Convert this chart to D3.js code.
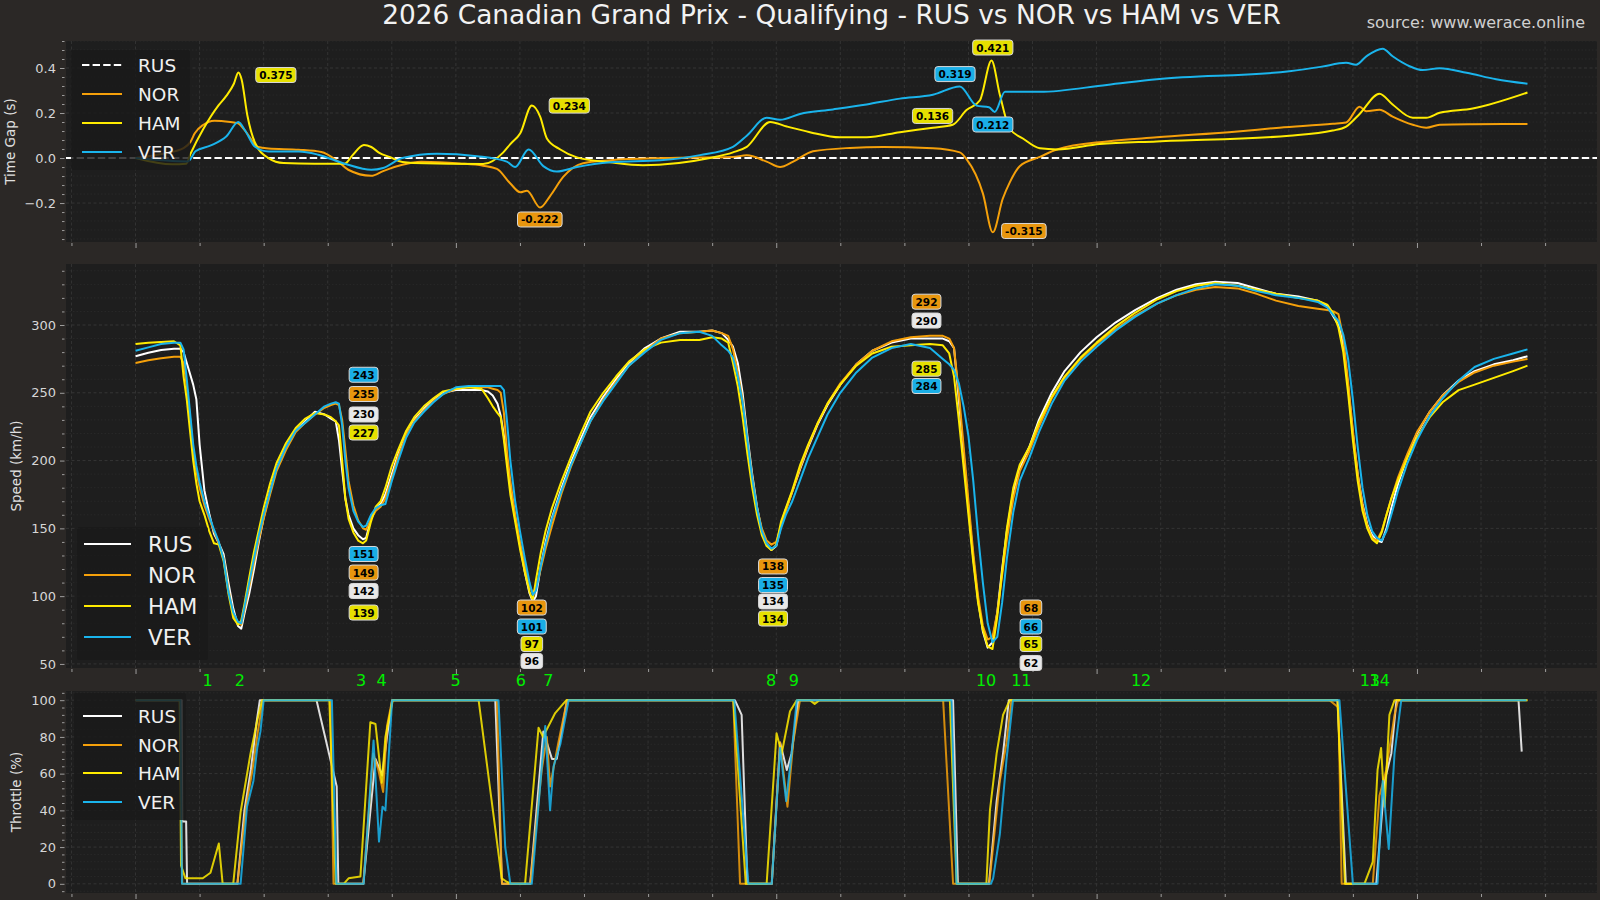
<!DOCTYPE html>
<html><head><meta charset="utf-8">
<script src="https://cdn.jsdelivr.net/npm/d3@7"></script>
<style>
html,body{margin:0;padding:0;background:#2b2826;}
svg{display:block;}
text{font-family:"DejaVu Sans",sans-serif;}
</style></head><body>
<svg id="chart" width="1600" height="900"></svg>
<script>
// ---------------- DATA ----------------
const drivers = ["RUS","NOR","HAM","VER"];
const titleText = "2026 Canadian Grand Prix - Qualifying - RUS vs NOR vs HAM vs VER";
const sourceText = "source: www.werace.online";

// distance grid (m) shared by the speed traces
const speedDistance = [0,40,80,120,140,
 150,160,170,180,190,200,215,230,245,260,275,290,305,320,330,340,355,370,385,400,420,440,470,500,530,560,590,610,625,
 635,645,655,665,680,695,710,720,735,750,765,780,800,820,845,870,900,930,960,1000,1040,1080,1100,1115,1130,
 1140,1150,1160,1170,1185,1200,1215,1230,1240,1250,1265,1280,1300,1330,1360,1390,1420,1460,1500,1540,1590,1640,1700,1760,1800,1830,1850,
 1865,1880,1895,1910,1925,1940,1955,1970,1985,2000,2015,2030,2050,2075,2100,2130,2160,2200,2250,2300,2360,2420,2480,2520,2540,
 2555,2570,2585,2600,2615,2630,2645,2660,2675,2690,2705,2720,2740,2760,2790,2820,2860,2900,2950,3000,3060,3120,3190,3250,3310,3370,3440,3500,3560,3630,3690,3720,3740,
 3755,3770,3785,3800,3815,3830,3845,3860,3875,3890,3905,3920,3940,3970,4000,4040,4080,4130,4180,4240,4300,4345];

const speedRUS = [277,279.5,281.5,282.5,282.5,
 280,272,264,256,245,212,178,161,146,139,131,110,91,78,76,87,102,120,140,158,177,194,210,222,229,236,234,231,229,
 215,193,172,160,150,145,142,143,157,165,168,175,190,205,219,230,238,245,250,252,252,252,251,248,242,
 233,218,200,180,158,138,118,102,96,100,122,140,158,180,199,216,232,247,260,272,283,290,295,295,296,294,289,
 284,272,250,218,190,166,148,138,134,137,152,164,177,194,210,227,241,256,271,281,287,290,290,290,288,
 283,245,205,165,128,97,74,62,66,88,120,148,177,194,210,230,250,266,280,291,302,311,320,326,330,332,331,327,323,321,318,314,306,
 300,285,255,220,190,168,153,145,141,140,150,165,182,203,220,236,248,259,266,271,274,277];

const speedNOR = [272,274,275.5,276.5,276.5,
 272,255,232,208,192,180,167,157,148,139,128,105,87,80,79,90,107,125,142,157,175,192,208,221,228,234,239,241,242,
 241,230,208,185,167,156,150,149,157,163,166,172,187,203,219,229,237,244,249,253,254,254,254,253,252,
 250,235,205,185,160,140,123,108,102,106,120,135,152,176,196,213,229,245,258,270,281,290,294,295,296,294,292,
 282,265,245,215,188,165,150,141,138,140,152,163,177,195,211,228,242,257,271,281,288,291,292,292,290,
 283,250,210,170,132,100,78,68,70,88,115,142,172,192,207,225,246,261,275,286,297,307,316,322,326,328,327,323,318,314,312,311,310,
 308,290,258,222,190,167,152,143,141,148,160,172,187,205,221,236,248,258,265,270,273,275];

const speedHAM = [286,287,287.5,288,285,
 262,245,222,200,183,170,160,148,139,138,126,102,84,79,82,94,114,133,149,165,183,198,213,224,231,235,234,232,229,
 226,200,172,157,147,141,139,141,155,166,170,180,196,208,222,232,240,246,251,253,254,253,246,240,235,
 232,215,195,175,155,135,118,103,97,112,132,148,165,185,203,220,236,250,262,273,282,287,289,289,291,290,287,
 272,255,232,205,180,160,145,137,134,138,155,165,178,197,212,228,242,256,270,279,284,285,286,285,279,
 262,230,195,160,125,95,75,63,61,85,118,150,180,197,210,228,247,262,276,287,299,309,319,325,329,331,329,326,323,320,318,315,308,
 298,280,250,215,185,163,150,142,139,147,160,172,185,202,217,232,243,252,256,261,266,270];

const speedVER = [281,283.5,286,287,287,
 282,260,236,212,196,184,170,159,149,140,127,103,88,81,80,92,110,128,145,160,177,194,210,222,228,234,240,242,243,
 242,226,200,180,163,155,151,152,160,165,167,168,185,200,217,228,236,243,249,254,255,255,255,255,255,
 255,252,228,200,170,148,128,110,101,104,122,138,157,178,197,213,229,244,257,270,280,289,294,295,292,285,281,
 276,262,243,215,187,165,148,139,135,137,150,160,170,186,202,218,234,250,265,276,283,286,283,275,271,
 267,257,240,218,185,145,110,80,66,70,95,128,162,185,202,221,242,259,273,284,296,306,316,322,327,330,329,325,322,320,317,313,307,
 303,293,275,245,210,180,160,148,143,141,148,160,177,198,215,233,246,259,269,275,279,282];

// throttle traces [distance m, throttle %]
const throttleRUS = [[0,100],[144,100],[146,34],[158,34],[161,0],[318,0],[340,40],[360,62],[378,88],[388,100],[565,100],[628,53],[633,0],[711,0],[749,68],[770,59],[785,80],[801,100],[1123,100],[1144,0],[1232,0],[1273,83],[1300,68],[1315,68],[1347,100],[1871,100],[1892,92],[1910,0],[1986,0],[2012,77],[2033,62],[2048,71],[2069,100],[2552,100],[2567,0],[2664,0],[2688,45],[2708,71],[2726,100],[3752,100],[3778,0],[3873,0],[3899,56],[3920,71],[3936,100],[4317,100],[4327,72]];
const throttleNOR = [[0,100],[138,100],[146,0],[318,0],[345,42],[365,62],[382,83],[398,100],[608,100],[618,0],[711,0],[742,71],[758,62],[773,50],[785,86],[801,100],[1128,100],[1144,0],[1232,0],[1268,62],[1284,80],[1294,53],[1320,77],[1347,100],[1866,100],[1887,0],[1986,0],[2012,77],[2035,42],[2053,77],[2074,100],[2521,100],[2552,0],[2665,0],[2672,12],[2698,56],[2719,77],[2734,100],[3727,100],[3755,96],[3765,0],[3862,0],[3883,48],[3904,62],[3930,92],[3941,100],[4345,100]];
const throttleHAM = [[0,100],[138,100],[142,10],[156,3],[210,3],[234,6],[260,22],[272,0],[305,0],[328,39],[359,71],[380,89],[395,100],[605,100],[625,0],[650,0],[665,3],[702,4],[733,88],[749,87],[769,55],[780,80],[803,100],[1071,100],[1143,3],[1160,1],[1175,0],[1216,0],[1258,85],[1272,80],[1310,93],[1345,100],[1866,100],[1905,0],[1970,0],[2001,82],[2017,71],[2043,94],[2064,100],[2105,100],[2120,98],[2135,100],[2542,100],[2563,0],[2656,0],[2667,40],[2688,71],[2708,92],[2729,100],[3752,100],[3775,0],[3836,0],[3862,12],[3877,62],[3888,74],[3899,42],[3914,92],[3930,100],[4345,100]];
const throttleVER = [[0,100],[140,100],[145,0],[328,0],[348,42],[368,56],[380,74],[390,83],[400,100],[613,100],[627,0],[712,0],[743,78],[760,23],[771,42],[780,40],[801,100],[1133,100],[1154,20],[1170,0],[1237,0],[1279,86],[1294,40],[1305,64],[1326,76],[1352,100],[1869,100],[1913,0],[1986,0],[2012,74],[2031,45],[2048,71],[2064,100],[2547,100],[2563,0],[2670,0],[2677,3],[2698,27],[2719,68],[2739,100],[3758,100],[3800,0],[3877,0],[3893,56],[3912,19],[3930,71],[3951,100],[4342,100]];

// time gap to RUS [distance m, seconds]
const gapNOR = [[0,0],[90,0.02],[150,0.044],[172,0.073],[185,0.11],[212,0.148],[246,0.166],[296,0.16],[318,0.155],[343,0.12],[365,0.075],[380,0.05],[415,0.042],[510,0.037],[580,0.027],[630,-0.013],[664,-0.052],[736,-0.079],[773,-0.058],[833,-0.03],[892,-0.017],[1011,-0.024],[1085,-0.034],[1128,-0.048],[1170,-0.113],[1201,-0.152],[1222,-0.145],[1263,-0.22],[1294,-0.169],[1335,-0.084],[1397,-0.023],[1482,-0.01],[1650,0],[1865,0.005],[1908,0.012],[1970,-0.016],[2012,-0.04],[2053,-0.016],[2115,0.03],[2230,0.045],[2333,0.049],[2489,0.043],[2573,0.025],[2594,-0.005],[2645,-0.157],[2676,-0.33],[2707,-0.181],[2729,-0.108],[2760,-0.036],[2823,0.005],[2876,0.038],[3032,0.074],[3188,0.092],[3440,0.118],[3571,0.135],[3737,0.152],[3779,0.158],[3821,0.228],[3842,0.208],[3883,0.215],[3924,0.184],[3987,0.148],[4029,0.135],[4071,0.148],[4174,0.15],[4345,0.151]];
const gapHAM = [[0,0],[115,-0.028],[158,-0.025],[172,0.02],[212,0.13],[259,0.234],[284,0.277],[307,0.33],[321,0.38],[331,0.35],[349,0.19],[373,0.068],[415,0.0],[462,-0.022],[558,-0.025],[653,-0.025],[677,0.012],[713,0.058],[736,0.049],[761,0.023],[795,0.004],[833,-0.018],[867,-0.022],[1085,-0.027],[1148,0.025],[1170,0.062],[1201,0.11],[1237,0.233],[1263,0.184],[1284,0.087],[1326,0.038],[1378,0.003],[1482,-0.019],[1584,-0.032],[1793,0],[1865,0.025],[1908,0.05],[1981,0.16],[2033,0.14],[2105,0.115],[2199,0.092],[2282,0.092],[2386,0.115],[2489,0.135],[2551,0.148],[2594,0.213],[2636,0.257],[2672,0.433],[2698,0.281],[2729,0.13],[2770,0.087],[2823,0.043],[2876,0.038],[3010,0.062],[3188,0.074],[3602,0.099],[3737,0.122],[3779,0.14],[3821,0.196],[3883,0.286],[3924,0.238],[3987,0.179],[4029,0.179],[4071,0.201],[4174,0.22],[4345,0.291]];
const gapVER = [[0,0],[164,-0.015],[172,-0.004],[187,0.03],[235,0.056],[284,0.097],[321,0.16],[343,0.12],[373,0.05],[415,0.029],[510,0.029],[570,0.015],[653,-0.025],[736,-0.052],[773,-0.044],[833,0],[941,0.019],[1066,0.008],[1159,-0.016],[1185,-0.04],[1227,0.038],[1273,-0.036],[1315,-0.06],[1378,-0.04],[1482,-0.019],[1638,-0.01],[1762,0.013],[1865,0.05],[1908,0.099],[1970,0.179],[2012,0.17],[2074,0.196],[2177,0.216],[2282,0.238],[2386,0.264],[2489,0.281],[2573,0.318],[2625,0.233],[2664,0.226],[2682,0.205],[2714,0.294],[2823,0.294],[3032,0.325],[3188,0.35],[3602,0.386],[3699,0.405],[3779,0.423],[3810,0.415],[3842,0.452],[3893,0.486],[3924,0.452],[3977,0.408],[4017,0.391],[4071,0.399],[4155,0.379],[4247,0.35],[4345,0.33]];

// turn numbers and their distances (m)
const turnNames = ["1","2","3","4","5","6","7","8","9","10","11","12","13","14"];
const turnDistance = [225,326,704,768,999,1203,1289,1984,2055,2655,2765,3139,3853,3884];

// annotations: [driver, text, distance m, value level]
const gapNotes = [["HAM","0.375",438,0.369],["HAM","0.234",1354,0.233],["NOR","-0.222",1262,-0.273],
  ["HAM","0.421",2676,0.491],["VER","0.319",2558,0.373],["HAM","0.136",2488,0.187],["VER","0.212",2676,0.149],["NOR","-0.315",2773,-0.324]];
const speedNotes = [["VER","243",712,263.3],["NOR","235",712,249.1],["RUS","230",712,234.0],["HAM","227",712,220.7],
  ["VER","151",712,131.1],["NOR","149",712,117.4],["RUS","142",712,103.8],["HAM","139",712,87.9],
  ["NOR","102",1237,91.6],["VER","101",1237,77.6],["HAM","97",1237,64.7],["RUS","96",1237,52.2],
  ["NOR","138",1990,121.9],["VER","135",1990,108.2],["RUS","134",1990,96.1],["HAM","134",1990,83.5],
  ["NOR","292",2469,317.2],["RUS","290",2469,303.3],["HAM","285",2469,267.8],["VER","284",2469,255.0],
  ["NOR","68",2795,91.6],["VER","66",2795,77.6],["HAM","65",2795,64.7],["RUS","62",2795,50.7]];

const gapTicks = [-0.2,0,0.2,0.4];
const speedTicks = [50,100,150,200,250,300];
const throttleTicks = [0,20,40,60,80,100];

// ---------------- STYLE ----------------
const colors = {RUS:"#ffffff", NOR:"#f5a00a", HAM:"#ffeb00", VER:"#1ab4ec"};
const noteFill = {RUS:"#e8e8e8", NOR:"#e8960e", HAM:"#e6e000", VER:"#1aaee6"};
const figBg = "#2b2826", axBg = "#1e1e1e";

const svg = d3.select("#chart");
svg.append("rect").attr("width",1600).attr("height",900).attr("fill",figBg);

const X0 = 66, X1 = 1597;
const x = d3.scaleLinear().domain([-217, 4562]).range([X0, X1]);

const panels = [
  {id:"gap", top:41, bottom:242, domain:[-0.373,0.52], major:gapTicks, minorStep:0.04, fmt:d3.format(".1f"), label:"Time Gap (s)", labelX:10},
  {id:"spd", top:264, bottom:668, domain:[47,345], major:speedTicks, minorStep:10, fmt:d3.format("d"), label:"Speed (km/h)", labelX:15.5},
  {id:"thr", top:691, bottom:893, domain:[-5,105], major:throttleTicks, minorStep:4, fmt:d3.format("d"), label:"Throttle (%)", labelX:16}
];

const xMinor = d3.range(-200, 4562, 200);
const xMajor = d3.range(0, 4562, 1000);

panels.forEach(p => {
  p.y = d3.scaleLinear().domain(p.domain).range([p.bottom, p.top]);
  const g = svg.append("g");
  p.g = g;
  g.append("rect").attr("x",X0).attr("y",p.top).attr("width",X1-X0).attr("height",p.bottom-p.top).attr("fill",axBg);
  svg.append("clipPath").attr("id","clip-"+p.id).append("rect")
    .attr("x",X0).attr("y",p.top).attr("width",X1-X0).attr("height",p.bottom-p.top);
  const lo = Math.ceil(p.domain[0]/p.minorStep), hi = Math.floor(p.domain[1]/p.minorStep);
  const yMinor = d3.range(lo, hi+1).map(k => +(k*p.minorStep).toFixed(6))
      .filter(v => !p.major.some(m => Math.abs(m-v) < 1e-9));
  const grid = g.append("g").attr("clip-path","url(#clip-"+p.id+")");
  grid.selectAll(".hmin").data(yMinor).join("line")
    .attr("x1",X0).attr("x2",X1).attr("y1",d=>p.y(d)).attr("y2",d=>p.y(d))
    .attr("stroke","#2f2f2f").attr("stroke-width",0.6).attr("stroke-dasharray","1.5,2");
  grid.selectAll(".hmaj").data(p.major).join("line")
    .attr("x1",X0).attr("x2",X1).attr("y1",d=>p.y(d)).attr("y2",d=>p.y(d))
    .attr("stroke","#3a3a3a").attr("stroke-width",0.8).attr("stroke-dasharray","3,2.5");
  grid.selectAll(".vg").data(xMinor).join("line")
    .attr("x1",d=>x(d)).attr("x2",d=>x(d)).attr("y1",p.top).attr("y2",p.bottom)
    .attr("stroke","#383838").attr("stroke-width",0.8).attr("stroke-dasharray","3,2.5");
  const yAxMinor = d3.axisLeft(p.y).tickValues(yMinor).tickSize(2.5).tickFormat("");
  const yAxMajor = d3.axisLeft(p.y).tickValues(p.major).tickSize(4.5).tickPadding(4).tickFormat(p.fmt);
  [yAxMinor, yAxMajor].forEach(ax => {
    const a = g.append("g").attr("transform",`translate(${X0-1.5},0)`).call(ax);
    a.select(".domain").remove();
    a.selectAll("line").attr("stroke","#bbbbbb").attr("stroke-width",0.8);
    a.selectAll("text").attr("fill","#d6d6d6").attr("font-size","13px").attr("font-family","DejaVu Sans");
  });
  const xAxMinor = d3.axisBottom(x).tickValues(xMinor.filter(v=>!xMajor.includes(v))).tickSize(3).tickFormat("");
  const xAxMajor = d3.axisBottom(x).tickValues(xMajor).tickSize(5).tickFormat("");
  [xAxMinor, xAxMajor].forEach(ax => {
    const a = g.append("g").attr("transform",`translate(0,${p.bottom+1})`).call(ax);
    a.select(".domain").remove();
    a.selectAll("line").attr("stroke","#bbbbbb").attr("stroke-width",0.8);
  });
  g.append("text").attr("transform",`translate(${p.labelX},${(p.top+p.bottom)/2}) rotate(-90)`)
    .attr("text-anchor","middle").attr("dominant-baseline","central")
    .attr("fill","#e0e0e0").attr("font-size","13.5px").text(p.label);
});

const [pGap, pSpd, pThr] = panels;

// ---------- gap panel ----------
const gapLayer = pGap.g.append("g").attr("clip-path","url(#clip-gap)");
gapLayer.append("line").attr("x1",X0).attr("x2",X1).attr("y1",pGap.y(0)).attr("y2",pGap.y(0))
  .attr("stroke",colors.RUS).attr("stroke-width",2).attr("stroke-dasharray","7.4,3.2");
const gapSeries = {NOR:gapNOR, HAM:gapHAM, VER:gapVER};
const gapLine = d3.line().x(d=>x(d[0])).y(d=>pGap.y(d[1])).curve(d3.curveMonotoneX);
["NOR","HAM","VER"].forEach(dr => {
  gapLayer.append("path").datum(gapSeries[dr]).attr("d",gapLine)
    .attr("fill","none").attr("stroke",colors[dr]).attr("stroke-width",2).attr("stroke-linejoin","round");
});

// ---------- speed panel ----------
const spdLayer = pSpd.g.append("g").attr("clip-path","url(#clip-spd)");
const speedSeries = {RUS:speedRUS, NOR:speedNOR, HAM:speedHAM, VER:speedVER};
const spdLine = d3.line().x((d,i)=>x(speedDistance[i])).y(d=>pSpd.y(d));
drivers.forEach(dr => {
  spdLayer.append("path").datum(speedSeries[dr]).attr("d",spdLine)
    .attr("fill","none").attr("stroke",colors[dr]).attr("stroke-width",2).attr("stroke-linejoin","round");
});

// ---------- throttle panel ----------
const thrLayer = pThr.g.append("g").attr("clip-path","url(#clip-thr)");
const thrSeries = {RUS:throttleRUS, NOR:throttleNOR, HAM:throttleHAM, VER:throttleVER};
const thrLine = d3.line().x(d=>x(d[0])).y(d=>pThr.y(d[1]));
drivers.forEach(dr => {
  thrLayer.append("path").datum(thrSeries[dr]).attr("d",thrLine)
    .attr("fill","none").attr("stroke",colors[dr]).attr("stroke-width",2).attr("stroke-opacity",0.85)
    .attr("stroke-linejoin","round");
});

// ---------- annotations ----------
function note(layer, yScale, n){
  const [dr, txt, dist, lvl] = n;
  const cx = x(dist), cy = yScale(lvl);
  const t = layer.append("text").attr("x",cx).attr("y",cy).attr("text-anchor","middle")
    .attr("dominant-baseline","central").attr("font-size","10.5px").attr("font-weight","bold")
    .attr("fill","#000").text(txt);
  const bb = t.node().getBBox();
  layer.insert("rect", function(){ return t.node(); })
    .attr("x",bb.x-3.5).attr("y",cy-7.5).attr("width",bb.width+7).attr("height",15)
    .attr("rx",3).attr("ry",3).attr("fill",noteFill[dr]).attr("stroke","#d8d8d8").attr("stroke-width",1);
}
const gapNoteLayer = pGap.g.append("g");
gapNotes.forEach(n => note(gapNoteLayer, pGap.y, n));
const spdNoteLayer = pSpd.g.append("g");
speedNotes.forEach(n => note(spdNoteLayer, pSpd.y, n));

// ---------- legends ----------
function legend(box, rows, lineX, textX, fs, dashedRUS){
  const g = svg.append("g");
  g.append("rect").attr("x",box[0]).attr("y",box[1]).attr("width",box[2]-box[0]).attr("height",box[3]-box[1])
    .attr("fill","#1a1a1a").attr("fill-opacity",0.82).attr("rx",2);
  drivers.forEach((dr,i) => {
    g.append("line").attr("x1",lineX[0]).attr("x2",lineX[1]).attr("y1",rows[i]).attr("y2",rows[i])
      .attr("stroke",colors[dr]).attr("stroke-width",2)
      .attr("stroke-dasharray", (dashedRUS && dr==="RUS") ? "7.4,3.2" : null);
    g.append("text").attr("x",textX).attr("y",rows[i]).attr("dominant-baseline","central")
      .attr("fill","#f0f0f0").attr("font-size",fs+"px").text(dr);
  });
}
legend([71,50,190,170],[65,94,123,152],[82,122],138,18.5,true);
legend([77,527,208,660],[544,575,606,637],[84,131],148,21.5,false);
legend([74,693,186,820],[716,745,773,802],[83,122],138,18.5,false);

// ---------- turn labels ----------
svg.append("g").selectAll("text").data(turnNames).join("text")
  .attr("x",(d,i)=>x(turnDistance[i])).attr("y",680).attr("text-anchor","middle")
  .attr("dominant-baseline","central").attr("fill","#00ee00").attr("font-size","16px").text(d=>d);

// ---------- title ----------
svg.append("text").attr("x",(X0+X1)/2).attr("y",24).attr("text-anchor","middle")
  .attr("fill","#f2f2f2").attr("font-size","26.4px").text(titleText);
svg.append("text").attr("x",1585).attr("y",28).attr("text-anchor","end")
  .attr("fill","#d0d0d0").attr("font-size","16px").text(sourceText);
</script></body></html>
